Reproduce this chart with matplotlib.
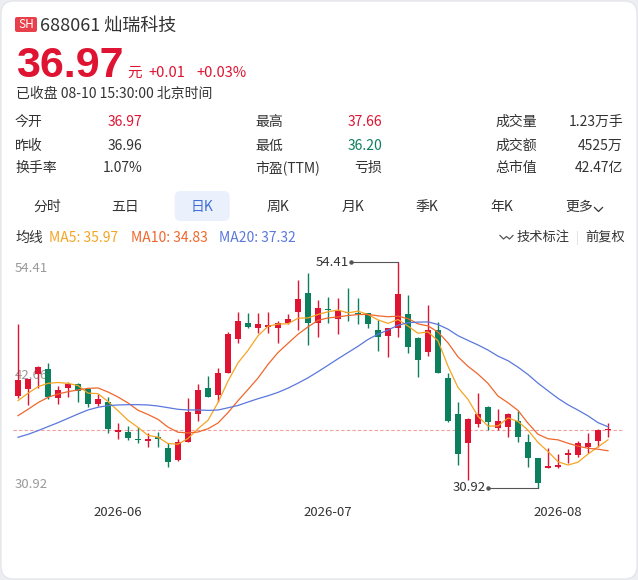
import matplotlib
matplotlib.use('Agg')
import math
import numpy as np
import matplotlib.pyplot as plt
from matplotlib.patches import FancyBboxPatch
from matplotlib.lines import Line2D
from matplotlib.transforms import IdentityTransform, blended_transform_factory

plt.rcParams['font.family'] = ['Noto Sans CJK SC', 'DejaVu Sans']

# ---------------- data ----------------
stock_code = '688061'
stock_name = '灿瑞科技'
last_price = '36.97'
change = '+0.01'
change_pct = '+0.03%'
status_line = '已收盘 08-10 15:30:00 北京时间'

stat_labels = [['今开', '昨收', '换手率'], ['最高', '最低', '市盈(TTM)'], ['成交量', '成交额', '总市值']]
stat_values = [['36.97', '36.96', '1.07%'], ['37.66', '36.20', '亏损'], ['1.23万手', '4525万', '42.47亿']]
stat_kind = [['up', 'flat', 'flat'], ['up', 'down', 'flat'], ['flat', 'flat', 'flat']]

tabs = ['分时', '五日', '日K', '周K', '月K', '季K', '年K', '更多']
active_tab = '日K'

ma_names = ['MA5', 'MA10', 'MA20']
ma_last = [35.97, 34.83, 37.32]
ma_windows = [5, 10, 20]

opens = [40.52, 41.25, 42.77, 43.29, 40.31, 41.28, 41.73, 41.21, 39.62, 39.89,
         36.78, 36.71, 36.05, 35.81, 36.26, 35.04, 33.83, 35.74, 38.58, 41.35,
         40.59, 42.91, 46.37, 48.04, 47.59, 47.69, 47.52, 48.11, 49.25, 51.16,
         48.04, 49.53, 48.49, 49.25, 49.08, 49.08, 47.34, 46.72, 47.52, 49.01,
         46.48, 45.09, 47.34, 42.39, 38.61, 35.63, 37.54, 39.37, 37.12, 37.23,
         37.88, 35.74, 34.00, 32.96, 33.07, 34.35, 34.35, 35.15, 35.84, 36.97]
highs = [47.97, 42.28, 43.60, 43.88, 41.52, 41.90, 41.80, 41.28, 40.69, 40.34,
         37.64, 37.40, 37.30, 36.60, 36.78, 35.63, 35.98, 40.24, 41.70, 42.56,
         43.36, 47.17, 49.25, 49.15, 49.08, 49.18, 48.28, 48.97, 52.54, 53.30,
         50.46, 50.81, 50.64, 51.68, 50.71, 49.15, 48.38, 47.59, 54.41, 50.98,
         46.65, 49.94, 48.21, 42.84, 39.89, 38.23, 40.76, 39.44, 39.10, 38.68,
         38.92, 36.50, 34.00, 35.04, 34.45, 34.94, 35.84, 36.60, 37.02, 37.66]
lows = [40.31, 39.55, 41.28, 40.14, 39.65, 40.41, 39.89, 39.37, 39.44, 36.67,
        35.98, 35.91, 35.63, 35.15, 35.15, 33.07, 33.73, 35.67, 37.88, 40.34,
        39.89, 42.84, 45.96, 47.59, 47.07, 47.07, 46.03, 47.97, 47.34, 45.78,
        46.65, 48.11, 46.89, 48.31, 47.97, 47.52, 45.20, 44.50, 46.58, 44.92,
        42.49, 44.64, 42.84, 37.75, 33.31, 31.75, 37.30, 36.95, 36.95, 36.19,
        35.67, 33.07, 30.92, 32.96, 32.96, 33.48, 34.18, 34.52, 35.22, 36.20]
closes = [42.15, 42.22, 43.53, 40.41, 41.11, 41.73, 41.04, 39.62, 40.14, 37.02,
          36.95, 36.08, 35.91, 36.01, 36.05, 33.66, 35.74, 38.86, 41.11, 40.41,
          42.91, 46.89, 48.31, 47.62, 47.97, 47.86, 48.04, 48.45, 50.53, 48.11,
          49.67, 49.42, 49.35, 49.08, 48.97, 47.93, 46.65, 47.52, 51.09, 45.54,
          44.23, 47.34, 42.91, 37.88, 34.45, 38.06, 38.58, 37.82, 37.92, 38.61,
          36.26, 34.07, 31.41, 33.21, 33.31, 34.52, 35.56, 35.63, 36.96, 36.97]

# moving-average values before a full window is available
ma5_head = [40.00, 40.76, 41.45, 41.80]
ma10_head = [38.44, 39.10, 39.79, 40.34, 40.69, 40.93, 41.11, 41.28, 41.32]
ma20_head = [36.19, 36.50, 36.88, 37.30, 37.71, 38.16, 38.61, 39.03, 39.31, 39.48,
             39.55, 39.58, 39.58, 39.55, 39.44, 39.27, 39.10, 39.03, 39.03]

month_labels = ['2026-06', '2026-07', '2026-08']
month_index = [10, 31, 54]

# ---------------- style ----------------
RED = '#de1432'
GREEN = '#0c7f5d'
MA_COLORS = ['#f5a524', '#f0672c', '#5a78dd']
TXT = '#333333'
GRAY = '#999999'

W, H = 638, 580
fig = plt.figure(figsize=(W / 100, H / 100), dpi=100, facecolor='#eceef2')


def P(x, y):
    return (x / W, 1 - y / H)


def T(x, y, s, **kw):
    kw.setdefault('color', TXT)
    return fig.text(*P(x, y), s, **kw)


# card background
card = FancyBboxPatch((1, 1), W - 2, H - 2, boxstyle='round,pad=0,rounding_size=13',
                      transform=IdentityTransform(), facecolor='white',
                      edgecolor='#e2e4e9', linewidth=0.8, zorder=0)
fig.add_artist(card)

# header
badge = FancyBboxPatch((15, H - 32), 22, 15, boxstyle='round,pad=0,rounding_size=2',
                       transform=IdentityTransform(), facecolor='#e8404a',
                       edgecolor='none', zorder=1)
fig.add_artist(badge)
T(26, 24.5, 'SH', color='white', fontsize=8.5, ha='center', va='center')
T(40, 31, f'{stock_code} {stock_name}', fontsize=13, va='baseline')
T(16, 77, last_price, color=RED, fontsize=31, fontweight='bold', va='baseline',
  family=['Liberation Sans', 'DejaVu Sans'])
T(127, 77, '元', color=RED, fontsize=10.5, va='baseline')
T(148, 77, change, color=RED, fontsize=10.5, va='baseline')
T(196, 77, change_pct, color=RED, fontsize=10.5, va='baseline')
T(16, 98, status_line, fontsize=10, va='baseline')

# stats grid
col_lab_x = [15, 255, 495]
col_val_x = [142, 382, 623]
row_y = [122, 146, 168]
kind_color = {'up': RED, 'down': GREEN, 'flat': TXT}
for c in range(3):
    for r in range(3):
        T(col_lab_x[c], row_y[r], stat_labels[c][r], fontsize=10, va='center')
        T(col_val_x[c], row_y[r], stat_values[c][r], fontsize=10, va='center',
          ha='right', color=kind_color[stat_kind[c][r]])

# tabs
tab_x = [46.8, 124.9, 202.2, 277.9, 352.7, 427.2, 501.6, 579.5]
for name, tx in zip(tabs, tab_x):
    if name == active_tab:
        hl = FancyBboxPatch((tx - 27.5, H - 221), 55, 30, boxstyle='round,pad=0,rounding_size=6',
                            transform=IdentityTransform(), facecolor='#eaf1fc',
                            edgecolor='none', zorder=1)
        fig.add_artist(hl)
        T(tx, 207, name, fontsize=10, ha='center', va='center', color='#3f6fd6')
    else:
        T(tx, 207, name, fontsize=10, ha='center', va='center')
fig.add_artist(Line2D([594.5, 598.5, 602.5], [H - 207.5, H - 211.5, H - 207.5],
                      transform=IdentityTransform(), color=TXT, lw=0.9))

# MA legend row
T(15, 237.5, '均线', fontsize=10, va='center')
leg_x = [49, 131, 219]
for name, val, col, lx in zip(ma_names, ma_last, MA_COLORS, leg_x):
    T(lx, 237.5, f'{name}: {val:.2f}', fontsize=10, va='center', color=col)
fig.add_artist(Line2D([500, 503.5, 506.5, 509.5, 513], [H - 235.5, H - 239, H - 236.5, H - 239, H - 235.5],
                      transform=IdentityTransform(), color='#555555', lw=0.9))
T(517, 237.5, '技术标注', fontsize=9.5, va='center')
fig.add_artist(Line2D([577, 577], [H - 231, H - 244], transform=IdentityTransform(),
                      color='#e6e6e6', lw=0.8))
T(585, 237.5, '前复权', fontsize=9.5, va='center')

# ---------------- candlestick chart ----------------
ax_left, ax_right, ax_top, ax_bottom = 13, 623, 255, 500
ax = fig.add_axes([ax_left / W, 1 - ax_bottom / H, (ax_right - ax_left) / W, (ax_bottom - ax_top) / H])
ax.patch.set_alpha(0)
for s in ax.spines.values():
    s.set_visible(False)

o = np.array(opens)
h = np.array(highs)
l = np.array(lows)
c = np.array(closes)
x = np.arange(len(c))
hi, lo = h.max(), l.min()
rng = hi - lo
ax.set_xlim(-0.5, 60.5)
ax.set_ylim(lo - rng * 0.0531, hi + rng * 0.031)

cols = np.where(c >= o, RED, GREEN)
ax.vlines(x, l, h, colors=cols, lw=1.0, zorder=2)
body_bottom = np.minimum(o, c)
body_h = np.maximum(np.abs(c - o), 0.12)
ax.bar(x, body_h, 0.64, bottom=body_bottom, color=cols, linewidth=0, zorder=3)


def moving_average(vals, n, head):
    out = list(head)
    for i in range(len(head), len(vals)):
        out.append(float(np.mean(vals[i - n + 1:i + 1])))
    return out


heads = [ma5_head, ma10_head, ma20_head]
for n, head, col in zip(ma_windows, heads, MA_COLORS):
    ax.plot(x, moving_average(c, n, head), color=col, lw=0.9, zorder=4)

# current price dashed line
ax.axhline(c[-1], color='#f3a0a0', lw=0.8, dashes=(3, 2), zorder=1)

# y-axis labels (max / mid / min)
mid = (hi + lo) / 2
trans = blended_transform_factory(ax.transAxes, ax.transData)
ylab_x = 2 / (ax_right - ax_left)
ax.annotate(f'{hi:.2f}', xy=(ylab_x, hi), xycoords=trans, xytext=(0, -4.5),
            textcoords='offset points', va='center', ha='left', fontsize=9.5, color=GRAY, zorder=0.5)
ax.annotate(f'{math.floor(mid * 100 + 1e-9) / 100:.2f}', xy=(ylab_x, mid), xycoords=trans,
            va='center', ha='left', fontsize=9.5, color=GRAY, zorder=0.5)
ax.annotate(f'{lo:.2f}', xy=(ylab_x, lo), xycoords=trans, xytext=(0, 2.3),
            textcoords='offset points', va='center', ha='left', fontsize=9.5, color=GRAY, zorder=0.5)

# max / min markers
imax, imin = int(np.argmax(h)), int(np.argmin(l))
ax.plot([imax - 4.7, imax], [hi, hi], color='#555555', lw=0.8, zorder=5)
ax.plot([imax - 4.7], [hi], 'o', ms=2.2, color='#555555', zorder=5)
ax.text(imax - 4.9, hi, f'{hi:.2f}', ha='right', va='center', fontsize=9.5, color=TXT, zorder=5)
ax.plot([imin - 5.0, imin], [lo, lo], color='#555555', lw=0.8, zorder=5)
ax.plot([imin - 5.0], [lo], 'o', ms=2.2, color='#555555', zorder=5)
ax.text(imin - 5.2, lo, f'{lo:.2f}', ha='right', va='center', fontsize=9.5, color=TXT, zorder=5)

# month labels
ax.set_xticks(month_index)
ax.set_xticklabels(month_labels, fontsize=9.5, color=TXT)
ax.tick_params(axis='x', length=0, pad=4)
ax.set_yticks([])

fig.savefig('out.png', dpi=100, facecolor=fig.get_facecolor())
